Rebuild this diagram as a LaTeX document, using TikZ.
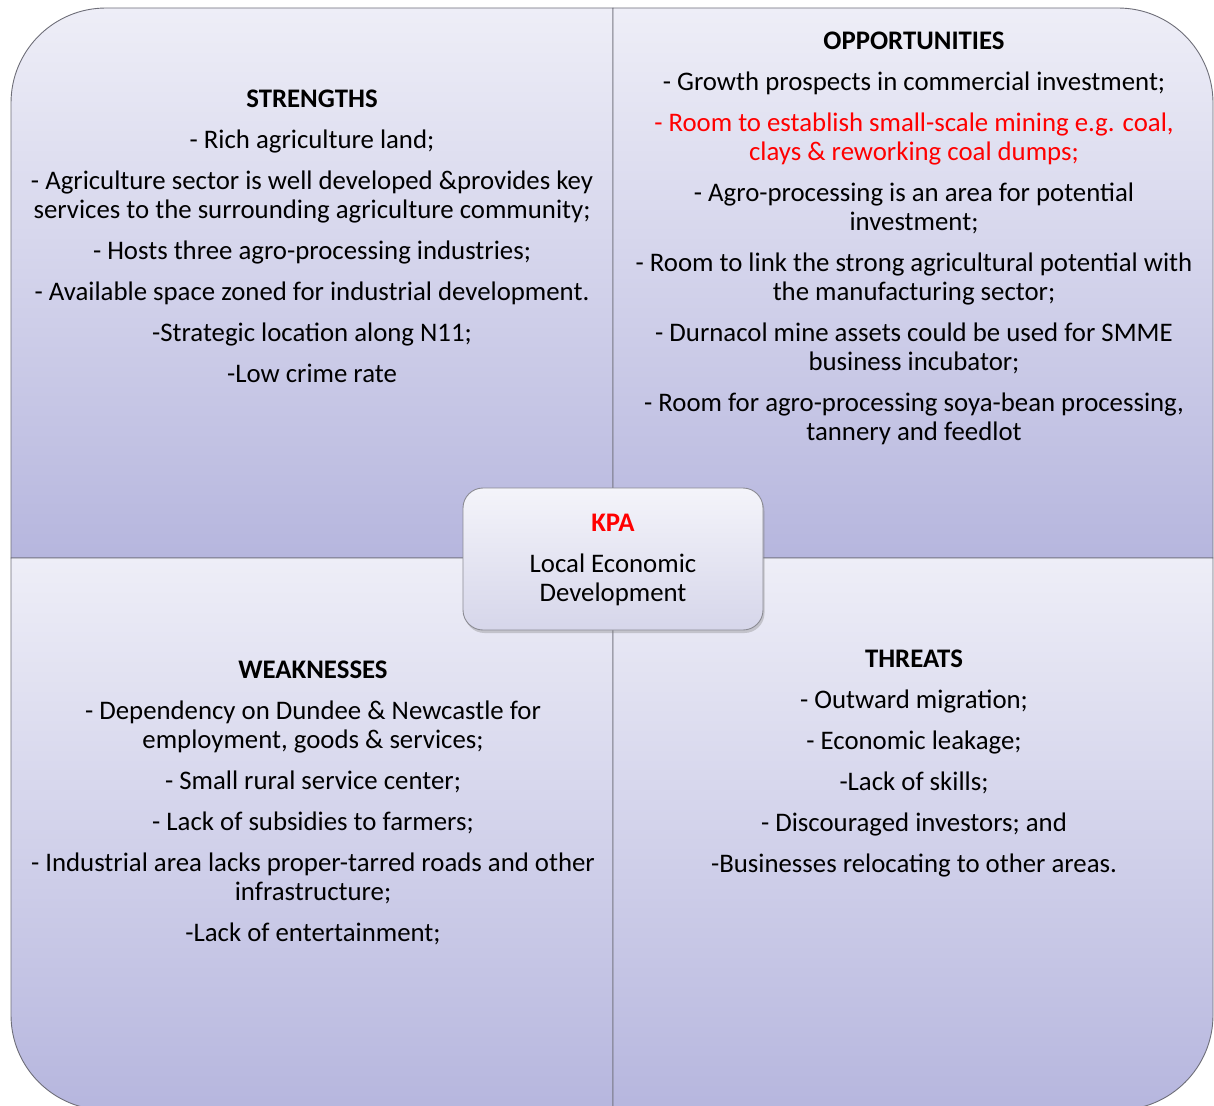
\documentclass[tikz,border=0pt]{standalone}
\usepackage{fontspec}
\setmainfont{Carlito}
\usetikzlibrary{shadows}
\definecolor{quadtop}{RGB}{238,238,247}
\definecolor{quadbot}{RGB}{182,182,222}
\definecolor{quadline}{RGB}{110,110,120}
\definecolor{hubtop}{RGB}{244,244,250}
\definecolor{hubbot}{RGB}{214,214,234}
\definecolor{kpared}{RGB}{255,0,0}
\tikzset{
  quad/.style={top color=quadtop, bottom color=quadbot, draw=quadline, line width=0.9pt},
  swot/.style={align=center, inner sep=0pt, anchor=north,
    font=\fontsize{26.8}{29}\selectfont},
  hub/.style={draw=quadline!80, line width=0.9pt, rounded corners=20pt,
    top color=hubtop, bottom color=hubbot, minimum width=300pt, minimum height=142pt,
    drop shadow={shadow xshift=1.5pt, shadow yshift=-3pt, opacity=0.35}},
}
\begin{document}
\begin{tikzpicture}[x=1pt, y=-1pt]
\useasboundingbox (0,0) rectangle (1214,1105);
% four quadrants, outer corners rounded (y axis points down)
\shade[quad] (613,558) -- (11,558) -- (11,103) arc[start angle=180, end angle=270, radius=95] -- (613,8) -- cycle;
\shade[quad] (613,558) -- (613,8) -- (1118,8) arc[start angle=270, end angle=360, radius=95] -- (1213,558) -- cycle;
\shade[quad] (613,558) -- (11,558) -- (11,1015) arc[start angle=180, end angle=90, radius=95] -- (613,1110) -- cycle;
\shade[quad] (613,558) -- (1213,558) -- (1213,1015) arc[start angle=0, end angle=90, radius=95] -- (613,1110) -- cycle;

\node[swot] (strengths) at (312,89.4) {\textbf{STRENGTHS}\\[12pt]
- Rich agriculture land;\\[12pt]
- Agriculture sector is well developed \&provides key\\
services to the surrounding agriculture community;\\[12pt]
- Hosts three agro-processing industries;\\[12pt]
- Available space zoned for industrial development.\\[12pt]
-Strategic location along N11;\\[12pt]
-Low crime rate};

\node[swot] (opportunities) at (914,31.4) {\textbf{OPPORTUNITIES}\\[12pt]
- Growth prospects in commercial investment;\\[12pt]
\textcolor{kpared}{- Room to establish small-scale mining e.g. coal,}\\
\textcolor{kpared}{clays \& reworking coal dumps;}\\[12pt]
- Agro-processing is an area for potential\\
investment;\\[12pt]
- Room to link the strong agricultural potential with\\
the manufacturing sector;\\[12pt]
- Durnacol mine assets could be used for SMME\\
business incubator;\\[12pt]
- Room for agro-processing soya-bean processing,\\
tannery and feedlot};

\node[swot] (weaknesses) at (313,660.4) {\textbf{WEAKNESSES}\\[12pt]
- Dependency on Dundee \& Newcastle for\\
employment, goods \& services;\\[12pt]
- Small rural service center;\\[12pt]
- Lack of subsidies to farmers;\\[12pt]
- Industrial area lacks proper-tarred roads and other\\
infrastructure;\\[12pt]
-Lack of entertainment;};

\node[swot] (threats) at (914,649.4) {\textbf{THREATS}\\[12pt]
- Outward migration;\\[12pt]
- Economic leakage;\\[12pt]
-Lack of skills;\\[12pt]
- Discouraged investors; and\\[12pt]
-Businesses relocating to other areas.};

% central key performance area box
\node[hub] (kpa) at (613,559) {};
\node[swot] (kpatext) at (613,514.4) {\textcolor{kpared}{\textbf{KPA}}\\[12pt]
Local Economic\\
Development};
\end{tikzpicture}
\end{document}
